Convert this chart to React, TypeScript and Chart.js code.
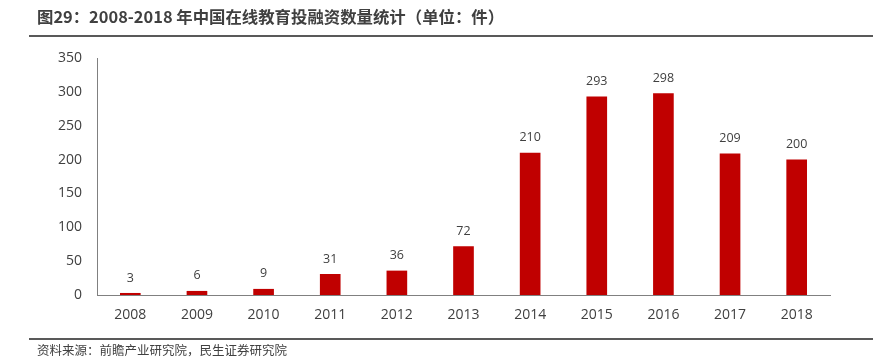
import React, { useEffect, useRef } from "react";
import { Chart, registerables } from "chart.js";

Chart.register(...registerables);

const categories = ["2008", "2009", "2010", "2011", "2012", "2013", "2014", "2015", "2016", "2017", "2018"];
const counts = [3, 6, 9, 31, 36, 72, 210, 293, 298, 209, 200];
const yTicks = [0, 50, 100, 150, 200, 250, 300, 350];

const titleText = "图29：2008-2018 年中国在线教育投融资数量统计（单位：件）";
const sourceText = "资料来源：前瞻产业研究院，民生证券研究院";

const textColor = "#404040";
const barColor = "#C00000";
const font = "'Open Sans', 'Noto Sans', sans-serif";

const labelPlugin = {
  id: "barLabels",
  afterDatasetsDraw(chart: any) {
    const ctx = chart.ctx;
    const meta = chart.getDatasetMeta(0);
    ctx.save();
    ctx.font = `12.5px ${font}`;
    ctx.fillStyle = textColor;
    ctx.textAlign = "center";
    ctx.textBaseline = "middle";
    meta.data.forEach((bar: any, i: number) => {
      ctx.fillText(String(counts[i]), bar.x, bar.y - 15);
    });
    ctx.restore();
  },
};

export default function App() {
  const ref = useRef<HTMLCanvasElement>(null);
  useEffect(() => {
    const chart = new Chart(ref.current!, {
      type: "bar",
      data: {
        labels: categories,
        datasets: [
          {
            data: counts,
            backgroundColor: barColor,
            barPercentage: 0.31,
            categoryPercentage: 1,
          },
        ],
      },
      options: {
        animation: false,
        responsive: false,
        maintainAspectRatio: false,
        layout: { padding: { left: 0, right: 43, top: 58, bottom: 0 } },
        plugins: { legend: { display: false }, tooltip: { enabled: false }, title: { display: false } },
        scales: {
          x: {
            grid: { display: false, drawTicks: false },
            border: { display: true, color: "#808080", width: 1 },
            ticks: { color: textColor, font: { size: 14, family: font }, padding: 12, maxRotation: 0 },
            afterFit: (s: any) => {
              s.height = 67;
            },
          },
          y: {
            min: 0,
            max: 350,
            afterBuildTicks: (s: any) => {
              s.ticks = yTicks.map((v) => ({ value: v }));
            },
            grid: { display: false, drawTicks: false },
            border: { display: true, color: "#808080", width: 1 },
            ticks: { color: textColor, font: { size: 14, family: font }, padding: 15 },
            afterFit: (s: any) => {
              s.width = 97;
            },
          },
        },
      },
      plugins: [labelPlugin],
    });
    return () => chart.destroy();
  }, []);

  return (
    <div style={{ position: "absolute", left: 0, top: 0, width: 873, height: 362, background: "#fff", overflow: "hidden" }}>
      <canvas ref={ref} width={873} height={362} style={{ position: "absolute", left: 0, top: 0 }} />
      <div
        style={{
          position: "absolute",
          left: 37,
          top: 5,
          fontFamily: "'Noto Sans CJK SC', sans-serif",
          fontWeight: 700,
          fontSize: 16.4,
          lineHeight: "22px",
          color: textColor,
          whiteSpace: "nowrap",
        }}
      >
        {titleText}
      </div>
      <div style={{ position: "absolute", left: 29, right: 0, top: 35, height: 2, background: "#595959" }} />
      <div style={{ position: "absolute", left: 29, right: 0, top: 338, height: 2, background: "#595959" }} />
      <div
        style={{
          position: "absolute",
          left: 37,
          top: 341,
          fontFamily: "'Noto Sans CJK SC', sans-serif",
          fontSize: 12.5,
          lineHeight: "18px",
          color: textColor,
          whiteSpace: "nowrap",
        }}
      >
        {sourceText}
      </div>
    </div>
  );
}
